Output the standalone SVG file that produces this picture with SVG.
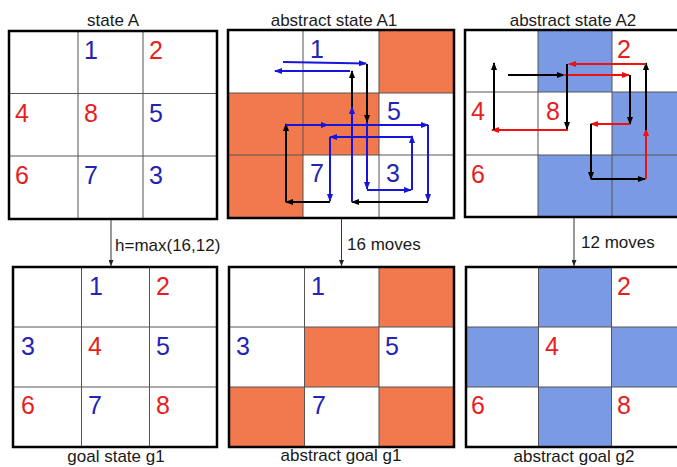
<svg xmlns="http://www.w3.org/2000/svg" width="677" height="467" viewBox="0 0 677 467">
<style>
text{font-family:"Liberation Sans",Arial,sans-serif}
.t{font-size:17px;fill:#1a1a1a;text-anchor:middle}
.l{font-size:17px;fill:#1a1a1a}
.d{font-size:25px}
.b{fill:#2323B4}
.r{fill:#E61E1E}
.box{fill:none;stroke:#000;stroke-width:2.5}
.g{stroke:#555;stroke-width:1;fill:none}
.o{fill:#F2784E}
.u{fill:#7A9BE4}
.ab{stroke:#1515DC;stroke-width:2;fill:none;marker-end:url(#mb)}
.ak{stroke:#000;stroke-width:2;fill:none;marker-end:url(#mk)}
.ar{stroke:#F01010;stroke-width:2;fill:none;marker-end:url(#mr)}
.c{stroke:#333;stroke-width:1;fill:none;marker-end:url(#mc)}
</style>
<defs>
<marker id="mb" viewBox="0 0 8 6" refX="7" refY="3" markerWidth="8" markerHeight="6" markerUnits="userSpaceOnUse" orient="auto"><path d="M0,0L8,3L0,6z" fill="#1515DC"/></marker>
<marker id="mk" viewBox="0 0 8 6" refX="7" refY="3" markerWidth="8" markerHeight="6" markerUnits="userSpaceOnUse" orient="auto"><path d="M0,0L8,3L0,6z" fill="#000"/></marker>
<marker id="mr" viewBox="0 0 8 6" refX="7" refY="3" markerWidth="8" markerHeight="6" markerUnits="userSpaceOnUse" orient="auto"><path d="M0,0L8,3L0,6z" fill="#F01010"/></marker>
<marker id="mc" viewBox="0 0 6 5" refX="6" refY="2.5" markerWidth="6" markerHeight="5" markerUnits="userSpaceOnUse" orient="auto"><path d="M0,0L6,2.5L0,5z" fill="#222"/></marker>
</defs>
<rect width="677" height="467" fill="#fff"/>

<g id="stateA">
<text class="t" x="113" y="26">state A</text>
<path class="g" d="M78,31V219M143,31V219M9,93.5H217M9,156H217"/>
<rect class="box" x="9" y="31" width="208" height="188"/>
<text class="d b" x="84" y="59">1</text>
<text class="d r" x="149" y="59">2</text>
<text class="d r" x="15" y="122">4</text>
<text class="d r" x="84" y="122">8</text>
<text class="d b" x="149" y="122">5</text>
<text class="d r" x="15" y="184">6</text>
<text class="d b" x="84" y="184">7</text>
<text class="d b" x="149" y="184">3</text>
</g>

<g id="abstractA1">
<text class="t" x="334" y="26">abstract state A1</text>
<rect class="o" x="379" y="30" width="75" height="63"/>
<rect class="o" x="228" y="93" width="151" height="62"/>
<rect class="o" x="228" y="155" width="75" height="63"/>
<path class="g" d="M303,30V218M379,30V218M228,93H454M228,155H454"/>
<rect class="box" x="228" y="30" width="226" height="188"/>
<text class="d b" x="310" y="58">1</text>
<text class="d b" x="387" y="120">5</text>
<text class="d b" x="310" y="182">7</text>
<text class="d b" x="386" y="182">3</text>
<path class="ab" d="M283,62L366,63.5"/>
<path class="ab" d="M350,71H275"/>
<path class="ak" d="M352,108V71"/>
<path class="ak" d="M367,64V122"/>
<path class="ab" d="M367,122V189"/>
<path class="ab" d="M367,190H411"/>
<path class="ab" d="M412,190V136"/>
<path class="ab" d="M412,137H330"/>
<path class="ab" d="M330,137V201"/>
<path class="ak" d="M330,202H286"/>
<path class="ak" d="M286,202V124"/>
<path class="ab" d="M286,125H328"/>
<path class="ab" d="M327,125H428"/>
<path class="ab" d="M428,125V201"/>
<path class="ak" d="M428,202H352"/>
<path class="ab" d="M352,202V107"/>
</g>

<g id="abstractA2">
<text class="t" x="573" y="26">abstract state A2</text>
<rect class="u" x="538" y="30" width="74" height="62"/>
<rect class="u" x="612" y="92" width="70" height="63"/>
<rect class="u" x="538" y="155" width="144" height="62"/>
<path class="g" d="M538,30V217M612,30V217M465,92H682M465,155H682"/>
<rect class="box" x="465" y="30" width="217" height="187"/>
<text class="d r" x="617" y="58">2</text>
<text class="d r" x="471" y="120">4</text>
<text class="d r" x="546" y="120">8</text>
<text class="d r" x="471" y="183">6</text>
<path class="ak" d="M508,75H564"/>
<path class="ar" d="M563,75H629"/>
<path class="ak" d="M630,75V124"/>
<path class="ar" d="M630,124H591"/>
<path class="ak" d="M591,124V179"/>
<path class="ak" d="M591,179H645"/>
<path class="ar" d="M646,179V129"/>
<path class="ak" d="M646,130V63"/>
<path class="ar" d="M646,64H569"/>
<path class="ak" d="M567,64V129"/>
<path class="ar" d="M568,130H492"/>
<path class="ak" d="M494,130V63"/>
</g>

<g id="goalG1">
<path class="g" d="M81.5,267V447M149.5,267V447M13,327H217M13,387H217"/>
<rect class="box" x="13" y="267" width="204" height="180"/>
<text class="d b" x="89" y="295">1</text>
<text class="d r" x="156" y="295">2</text>
<text class="d b" x="21" y="355">3</text>
<text class="d r" x="88" y="355">4</text>
<text class="d b" x="156" y="355">5</text>
<text class="d r" x="21" y="414">6</text>
<text class="d b" x="88" y="414">7</text>
<text class="d r" x="156" y="414">8</text>
<text class="t" x="116" y="462">goal state g1</text>
</g>

<g id="abstractGoalG1">
<rect class="o" x="379" y="267" width="75" height="60"/>
<rect class="o" x="304.5" y="327" width="74.5" height="60"/>
<rect class="o" x="229" y="387" width="75.5" height="60"/>
<rect class="o" x="379" y="387" width="75" height="60"/>
<path class="g" d="M304.5,267V447M379,267V447M229,327H454M229,387H454"/>
<rect class="box" x="229" y="267" width="225" height="180"/>
<text class="d b" x="311" y="295">1</text>
<text class="d b" x="236" y="355">3</text>
<text class="d b" x="385" y="355">5</text>
<text class="d b" x="312" y="414">7</text>
<text class="t" x="341" y="461">abstract goal g1</text>
</g>

<g id="abstractGoalG2">
<rect class="u" x="538.5" y="267" width="73" height="60"/>
<rect class="u" x="466" y="327" width="72.5" height="60"/>
<rect class="u" x="611.5" y="327" width="70" height="60"/>
<rect class="u" x="538.5" y="387" width="73" height="60"/>
<path class="g" d="M538.5,267V447M611.5,267V447M466,327H682M466,387H682"/>
<rect class="box" x="466" y="267" width="216" height="180"/>
<text class="d r" x="617" y="295">2</text>
<text class="d r" x="545" y="355">4</text>
<text class="d r" x="471" y="414">6</text>
<text class="d r" x="617" y="414">8</text>
<text class="t" x="574" y="462">abstract goal g2</text>
</g>

<g id="connectors">
<path class="c" d="M111,220V266"/>
<path class="c" d="M341.5,219V266"/>
<path class="c" d="M574,218V266"/>
<text class="l" x="115" y="251">h=max(16,12)</text>
<text class="l" x="347" y="250">16 moves</text>
<text class="l" x="581" y="248">12 moves</text>
</g>
</svg>
